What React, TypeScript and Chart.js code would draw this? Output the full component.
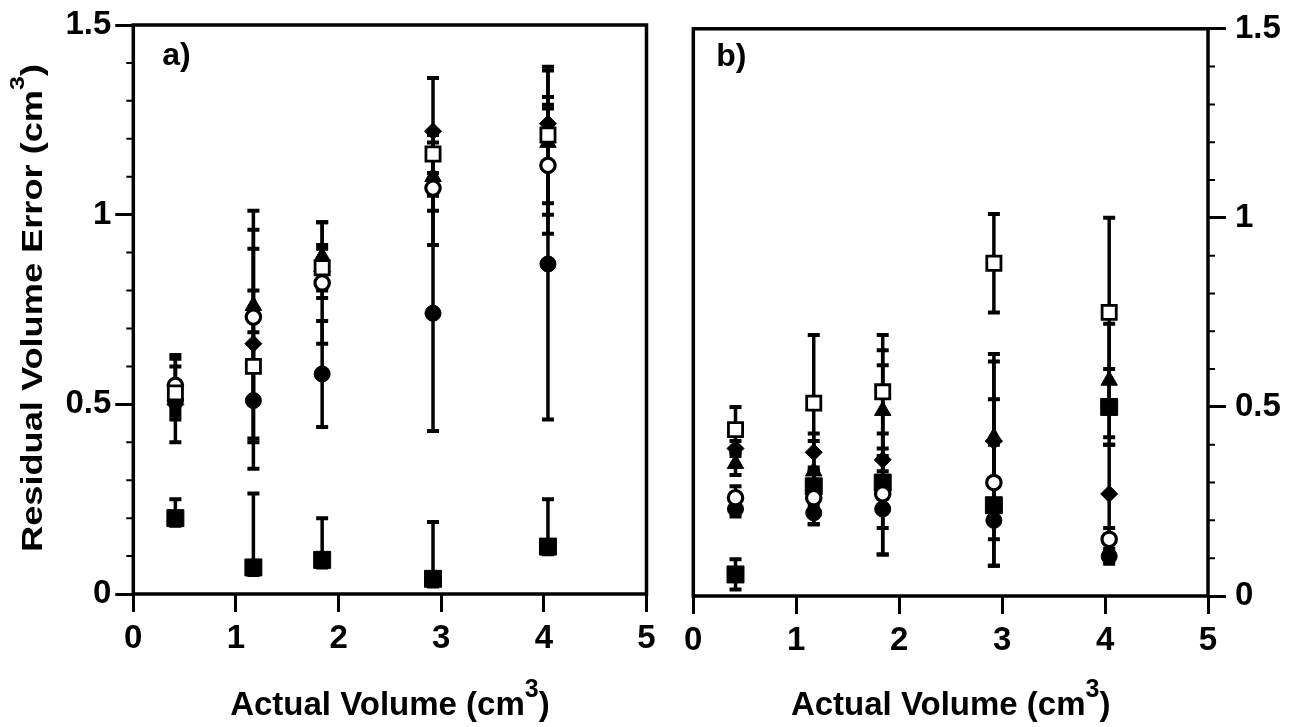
import React, { useEffect, useRef } from "react";
import { Chart, registerables } from "chart.js";

Chart.register(...registerables);

const FONT = "'Liberation Sans', Arial, Helvetica, sans-serif";

// ---------- data ----------
const xValues = [0.41, 1.17, 1.84, 2.92, 4.04];
const yMinorTicks = [0.1, 0.2, 0.3, 0.4, 0.6, 0.7, 0.8, 0.9, 1.1, 1.2, 1.3, 1.4];

// panel a)
const aOpenSquare = [0.53, 0.6, 0.86, 1.16, 1.21];
const aOpenSquareErr = [0.07, 0.2, 0.05, 0.05, 0.18];
const aOpenCircle = [0.55, 0.73, 0.82, 1.07, 1.13];
const aOpenCircleErr = [0.08, 0.23, 0.16, 0.15, 0.18];
const aFilledCircle = [0.51, 0.51, 0.58, 0.74, 0.87];
const aFilledCircleErr = [0.11, 0.18, 0.14, 0.31, 0.41];
const aTriangle = [0.52, 0.76, 0.89, 1.1, 1.19];
const aTriangleErr = [0.03, 0.25, 0.09, 0.09, 0.19];
const aDiamond = [0.5, 0.66, 0.85, 1.22, 1.24];
const aDiamondErr = [0.02, 0.25, 0.07, 0.14, 0.05];
const aFilledSquare = [0.2, 0.07, 0.09, 0.04, 0.125];
const aFilledSquareErrUp = [0.05, 0.195, 0.11, 0.15, 0.125];
const aFilledSquareErrDown = [0.02, 0.02, 0.02, 0.02, 0.02];

// panel b)
const bOpenSquare = [0.44, 0.51, 0.54, 0.88, 0.75];
const bOpenSquareErr = [0.06, 0.18, 0.15, 0.13, 0.25];
const bOpenCircle = [0.26, 0.26, 0.27, 0.3, 0.15];
const bOpenCircleErr = [0.03, 0.07, 0.16, 0.22, 0.03];
const bFilledCircle = [0.23, 0.22, 0.23, 0.2, 0.105];
const bFilledCircleErr = [0.02, 0.03, 0.05, 0.05, 0.02];
const bTriangle = [0.35, 0.33, 0.49, 0.42, 0.57];
const bTriangleErr = [0.03, 0.08, 0.16, 0.22, 0.15];
const bDiamond = [0.39, 0.38, 0.36, 0.41, 0.27];
const bDiamondErr = [0.02, 0.05, 0.25, 0.21, 0.13];
const bFilledSquare = [0.057, 0.29, 0.3, 0.24, 0.5];
const bFilledSquareErr = [0.04, 0.05, 0.07, 0.16, 0.1];

const xTitle = "Actual Volume (cm";
const yTitle = "Residual Volume Error (cm";
const supText = "3";
const tailText = ")";

// ---------- styles ----------
const markerStyles: Record<string, any> = {
  openSquare: { pointStyle: "rect", pointRadius: 10, backgroundColor: "#fff", borderColor: "#000", borderWidth: 2.8 },
  openCircle: { pointStyle: "circle", pointRadius: 7.2, backgroundColor: "#fff", borderColor: "#000", borderWidth: 3.2 },
  filledCircle: { pointStyle: "circle", pointRadius: 8, backgroundColor: "#000", borderColor: "#000", borderWidth: 1 },
  triangle: { pointStyle: "triangle", pointRadius: 9.5, backgroundColor: "#000", borderColor: "#000", borderWidth: 1 },
  diamond: { pointStyle: "rectRot", pointRadius: 8.5, backgroundColor: "#000", borderColor: "#000", borderWidth: 1 },
  filledSquare: { pointStyle: "rect", pointRadius: 12, backgroundColor: "#000", borderColor: "#000", borderWidth: 1 },
};

function makeDataset(style: string, values: number[], up: number[], down: number[]) {
  const s = markerStyles[style];
  return {
    label: style,
    data: xValues.map((x, i) => ({ x, y: values[i] })),
    errUp: up,
    errDown: down,
    showLine: false,
    pointHoverRadius: s.pointRadius,
    ...s,
  };
}

const datasetsA = [
  makeDataset("openSquare", aOpenSquare, aOpenSquareErr, aOpenSquareErr),
  makeDataset("openCircle", aOpenCircle, aOpenCircleErr, aOpenCircleErr),
  makeDataset("filledCircle", aFilledCircle, aFilledCircleErr, aFilledCircleErr),
  makeDataset("triangle", aTriangle, aTriangleErr, aTriangleErr),
  makeDataset("diamond", aDiamond, aDiamondErr, aDiamondErr),
  makeDataset("filledSquare", aFilledSquare, aFilledSquareErrUp, aFilledSquareErrDown),
];

const datasetsB = [
  makeDataset("openSquare", bOpenSquare, bOpenSquareErr, bOpenSquareErr),
  makeDataset("openCircle", bOpenCircle, bOpenCircleErr, bOpenCircleErr),
  makeDataset("filledCircle", bFilledCircle, bFilledCircleErr, bFilledCircleErr),
  makeDataset("triangle", bTriangle, bTriangleErr, bTriangleErr),
  makeDataset("diamond", bDiamond, bDiamondErr, bDiamondErr),
  makeDataset("filledSquare", bFilledSquare, bFilledSquareErr, bFilledSquareErr),
];

// ---------- plugins ----------
const errorBarPlugin = {
  id: "errorBars",
  beforeDatasetsDraw(chart: any) {
    const { ctx } = chart;
    const xs = chart.scales.x;
    const ys = chart.scales.y;
    ctx.save();
    ctx.strokeStyle = "#000";
    ctx.lineCap = "butt";
    chart.data.datasets.forEach((ds: any) => {
      ds.data.forEach((p: any, i: number) => {
        const up = ds.errUp[i];
        const down = ds.errDown[i];
        const px = xs.getPixelForValue(p.x);
        const top = ys.getPixelForValue(p.y + up);
        const bot = ys.getPixelForValue(Math.max(0, p.y - down));
        ctx.lineWidth = 3.5;
        ctx.beginPath();
        ctx.moveTo(px, top);
        ctx.lineTo(px, bot);
        ctx.stroke();
        ctx.lineWidth = 4;
        ctx.beginPath();
        ctx.moveTo(px - 6, top);
        ctx.lineTo(px + 6, top);
        ctx.moveTo(px - 6, bot);
        ctx.lineTo(px + 6, bot);
        ctx.stroke();
      });
    });
    ctx.restore();
  },
};

function drawSupTitle(ctx: CanvasRenderingContext2D, cx: number, baseline: number, size: number, supSize: number, rise: number, main: string) {
  const mainFont = `bold ${size}px ${FONT}`;
  const supFont = `bold ${supSize}px ${FONT}`;
  ctx.font = mainFont;
  const w1 = ctx.measureText(main).width;
  const w3 = ctx.measureText(tailText).width;
  ctx.font = supFont;
  const w2 = ctx.measureText(supText).width;
  let x = cx - (w1 + w2 + w3) / 2;
  ctx.textAlign = "left";
  ctx.textBaseline = "alphabetic";
  ctx.fillStyle = "#000";
  ctx.font = mainFont;
  ctx.fillText(main, x, baseline);
  x += w1;
  ctx.font = supFont;
  ctx.fillText(supText, x, baseline - rise);
  x += w2;
  ctx.font = mainFont;
  ctx.fillText(tailText, x, baseline);
  return w1 + w2 + w3;
}

const decorPlugin = {
  id: "decor",
  afterDraw(chart: any, _args: any, opts: any) {
    const { ctx, chartArea } = chart;
    const ys = chart.scales.y;
    ctx.save();
    // frame
    ctx.strokeStyle = "#000";
    ctx.lineWidth = 3.5;
    ctx.strokeRect(chartArea.left, chartArea.top, chartArea.right - chartArea.left, chartArea.bottom - chartArea.top);
    // minor y ticks
    ctx.lineWidth = 2;
    const edge = opts.side === "left" ? chartArea.left : chartArea.right;
    const dir = opts.side === "left" ? -1 : 1;
    ctx.beginPath();
    yMinorTicks.forEach((v) => {
      const py = ys.getPixelForValue(v);
      ctx.moveTo(edge, py);
      ctx.lineTo(edge + dir * 7, py);
    });
    ctx.stroke();
    // panel label
    ctx.fillStyle = "#000";
    ctx.font = `bold 32px ${FONT}`;
    ctx.textAlign = "left";
    ctx.textBaseline = "alphabetic";
    ctx.fillText(opts.label, chartArea.left + opts.labelDx, chartArea.top + opts.labelDy);
    // x title
    const cx = (chartArea.left + chartArea.right) / 2;
    drawSupTitle(ctx, cx, opts.xTitleBaseline, 33, 25, 18, xTitle);
    // y title
    if (opts.yTitle) {
      ctx.save();
      ctx.translate(opts.yTitleX, opts.yTitleY);
      ctx.rotate(-Math.PI / 2);
      ctx.font = `bold 29px ${FONT}`;
      const natural = ctx.measureText(yTitle + tailText).width + 12;
      ctx.scale(opts.yTitleLength / natural, 1);
      drawSupTitle(ctx, 0, 0, 29, 20, 18, yTitle);
      ctx.restore();
    }
    ctx.restore();
  },
};

function makeOptions(side: "left" | "right", yWidth: number, xHeight: number, padding: any, decor: any) {
  const tickFont = { family: FONT, size: 33, weight: "bold" as const };
  return {
    responsive: false,
    maintainAspectRatio: false,
    animation: false as const,
    events: [] as any[],
    layout: { padding },
    plugins: {
      legend: { display: false },
      tooltip: { enabled: false },
      decor,
    },
    scales: {
      x: {
        type: "linear" as const,
        min: 0,
        max: 5,
        ticks: { stepSize: 1, font: tickFont, color: "#000", padding: 7, maxRotation: 0, callback: (v: any) => String(v) },
        grid: { drawOnChartArea: false, tickLength: 18, tickWidth: 3, tickColor: "#000" },
        border: { display: false },
        afterFit: (s: any) => {
          s.height = xHeight;
        },
      },
      y: {
        type: "linear" as const,
        position: side,
        min: 0,
        max: 1.5,
        ticks: {
          stepSize: 0.5,
          font: tickFont,
          color: "#000",
          padding: side === "left" ? 4 : 9,
          callback: (v: any) => String(Math.round(Number(v) * 10) / 10),
        },
        grid: { drawOnChartArea: false, tickLength: 18, tickWidth: 3, tickColor: "#000" },
        border: { display: false },
        afterFit: (s: any) => {
          s.width = yWidth;
        },
      },
    },
  };
}

function Panel(props: { left: number; width: number; datasets: any[]; options: any }) {
  const ref = useRef<HTMLCanvasElement | null>(null);
  useEffect(() => {
    if (!ref.current) return;
    const chart = new Chart(ref.current, {
      type: "scatter",
      data: { datasets: props.datasets },
      options: props.options,
      plugins: [errorBarPlugin, decorPlugin],
    } as any);
    return () => chart.destroy();
  }, []);
  return (
    <canvas
      ref={ref}
      width={props.width}
      height={727}
      style={{ position: "absolute", left: props.left, top: 0, width: props.width, height: 727 }}
    />
  );
}

export default function App() {
  const optionsA = makeOptions("left", 133.3, 133, { left: 0, top: 25, right: 23.5, bottom: 0 }, {
    side: "left",
    label: "a)",
    labelDx: 29,
    labelDy: 40,
    xTitleBaseline: 715,
    yTitle: true,
    yTitleX: 42,
    yTitleY: 308,
    yTitleLength: 489,
  });
  const optionsB = makeOptions("right", 93, 131, { left: 23.3, top: 26.7, right: 0, bottom: 0 }, {
    side: "right",
    label: "b)",
    labelDx: 23,
    labelDy: 37,
    xTitleBaseline: 715,
    yTitle: false,
  });
  return (
    <div style={{ position: "absolute", left: 0, top: 0, width: 1301, height: 727, background: "#fff", overflow: "hidden" }}>
      <Panel left={0} width={670} datasets={datasetsA} options={optionsA} />
      <Panel left={670} width={631} datasets={datasetsB} options={optionsB} />
    </div>
  );
}
